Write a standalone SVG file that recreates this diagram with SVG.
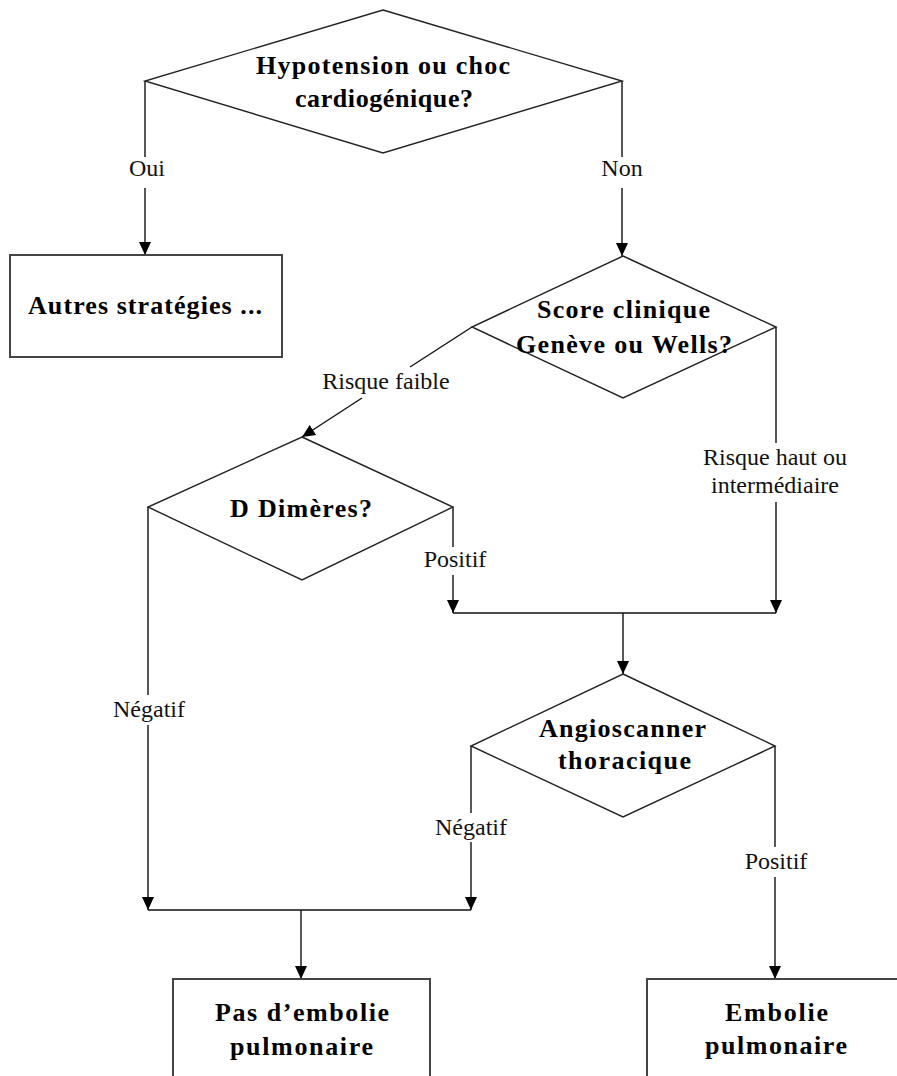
<svg xmlns="http://www.w3.org/2000/svg" width="897" height="1076" viewBox="0 0 897 1076">
<defs>
<marker id="arr" markerUnits="userSpaceOnUse" markerWidth="14" markerHeight="14" viewBox="0 0 14 14" refX="13" refY="7" orient="auto">
<path d="M0,1 L13,7 L0,13 Z" fill="#000"/>
</marker>
<style>
.shape{fill:#fff;stroke:#222;stroke-width:1.4}
.box{fill:#fff;stroke:#444;stroke-width:2}
.ln{fill:none;stroke:#111;stroke-width:1.4}
.t{font-family:"Liberation Serif","Times New Roman",serif;font-weight:bold;font-size:26px;fill:#000}
.lb{font-family:"Liberation Serif","Times New Roman",serif;font-size:24px;fill:#111;text-anchor:middle}
</style>
</defs>
<rect width="897" height="1076" fill="#fff"/>

<g id="connectors">
<line class="ln" x1="145" y1="81" x2="145" y2="157"/>
<line class="ln" x1="145" y1="188" x2="145" y2="255" marker-end="url(#arr)"/>
<line class="ln" x1="622" y1="81" x2="622" y2="157"/>
<line class="ln" x1="622" y1="188" x2="622" y2="256" marker-end="url(#arr)"/>
<line class="ln" x1="472" y1="327" x2="410" y2="367"/>
<line class="ln" x1="362" y1="398" x2="302" y2="437" marker-end="url(#arr)"/>
<line class="ln" x1="453" y1="507" x2="453" y2="547"/>
<line class="ln" x1="453" y1="575" x2="453" y2="613" marker-end="url(#arr)"/>
<line class="ln" x1="776" y1="327" x2="776" y2="443"/>
<line class="ln" x1="776" y1="502" x2="776" y2="613" marker-end="url(#arr)"/>
<line class="ln" x1="453" y1="613" x2="776" y2="613"/>
<line class="ln" x1="623" y1="613" x2="623" y2="674" marker-end="url(#arr)"/>
<line class="ln" x1="148" y1="507" x2="148" y2="695"/>
<line class="ln" x1="148" y1="725" x2="148" y2="910" marker-end="url(#arr)"/>
<line class="ln" x1="471" y1="746" x2="471" y2="813"/>
<line class="ln" x1="471" y1="842" x2="471" y2="910" marker-end="url(#arr)"/>
<line class="ln" x1="148" y1="910" x2="471" y2="910"/>
<line class="ln" x1="301" y1="910" x2="301" y2="979" marker-end="url(#arr)"/>
<line class="ln" x1="775" y1="746" x2="775" y2="847"/>
<line class="ln" x1="775" y1="877" x2="775" y2="979" marker-end="url(#arr)"/>
<text class="lb" x="147" y="176">Oui</text>
<text class="lb" x="622" y="176">Non</text>
<text class="lb" x="386" y="389">Risque faible</text>
<text class="lb" x="455" y="567">Positif</text>
<text class="lb" x="775" y="465">Risque haut ou</text>
<text class="lb" x="775" y="493">intermédiaire</text>
<text class="lb" x="149" y="717">Négatif</text>
<text class="lb" x="471" y="835">Négatif</text>
<text class="lb" x="776" y="869">Positif</text>
</g>

<g id="n-hypotension">
<polygon class="shape" points="383,10 622,81 383,153 145,81"/>
<text class="t" x="256" y="74" textLength="254" lengthAdjust="spacing">Hypotension ou choc</text>
<text class="t" x="295" y="107" textLength="178" lengthAdjust="spacing">cardiogénique?</text>
</g>

<g id="n-autres">
<rect class="box" x="10" y="255" width="272" height="102"/>
<text class="t" x="28" y="314" textLength="234" lengthAdjust="spacing">Autres stratégies ...</text>
</g>

<g id="n-score">
<polygon class="shape" points="623,256 776,327 623,398 472,327"/>
<text class="t" x="537" y="318" textLength="173" lengthAdjust="spacing">Score clinique</text>
<text class="t" x="516" y="353" textLength="216" lengthAdjust="spacing">Genève ou Wells?</text>
</g>

<g id="n-ddimeres">
<polygon class="shape" points="302,437 453,507 302,580 148,507"/>
<text class="t" x="230" y="517" textLength="142" lengthAdjust="spacing">D Dimères?</text>
</g>

<g id="n-angio">
<polygon class="shape" points="623,674 775,746 623,817 471,746"/>
<text class="t" x="539" y="737" textLength="167" lengthAdjust="spacing">Angioscanner</text>
<text class="t" x="558" y="769" textLength="133" lengthAdjust="spacing">thoracique</text>
</g>

<g id="n-pas-ep">
<rect class="box" x="173" y="979" width="257" height="130"/>
<text class="t" x="215" y="1021" textLength="174" lengthAdjust="spacing">Pas d’embolie</text>
<text class="t" x="230" y="1055" textLength="143" lengthAdjust="spacing">pulmonaire</text>
</g>

<g id="n-ep">
<rect class="box" x="647" y="979" width="270" height="130"/>
<text class="t" x="725" y="1021" textLength="103" lengthAdjust="spacing">Embolie</text>
<text class="t" x="705" y="1054" textLength="142" lengthAdjust="spacing">pulmonaire</text>
</g>
</svg>
